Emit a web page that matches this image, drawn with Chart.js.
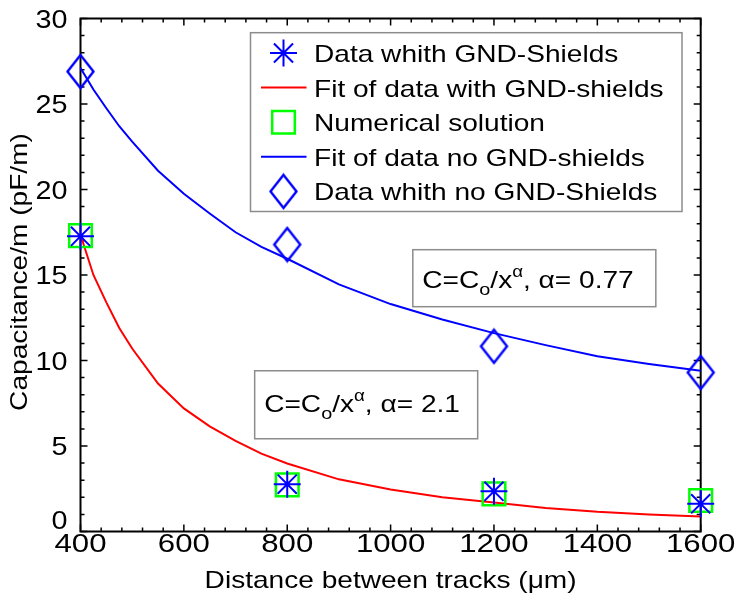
<!DOCTYPE html>
<html>
<head>
<meta charset="utf-8">
<script src="https://cdn.jsdelivr.net/npm/chart.js@4.4.0/dist/chart.umd.min.js"></script>
<style>
  html, body { margin: 0; padding: 0; background: #fff; }
  #wrap { width: 734px; height: 605px; }
</style>
</head>
<body>
<div id="wrap"><canvas id="capChart" width="734" height="605"></canvas></div>
<script>
// measured points
const distances = [400, 800, 1200, 1600];
const dataGndShields = [17.26, 2.77, 2.35, 1.62];
const numericalSolution = [17.3, 2.73, 2.2, 1.81];
const dataNoShields = [26.9, 16.78, 10.83, 9.3];

// fit curves
const fitX = [400, 425, 450, 475, 500, 550, 600, 650, 700, 750, 800, 900, 1000, 1100, 1200, 1300, 1400, 1500, 1600];
const fitGndShields = [17.35, 15.0, 13.4, 11.9, 10.7, 8.65, 7.2, 6.15, 5.3, 4.55, 3.98, 3.05, 2.45, 2.0, 1.7, 1.38, 1.15, 1.0, 0.88];
const fitNoShields = [27.1, 25.85, 24.75, 23.7, 22.8, 21.1, 19.75, 18.6, 17.5, 16.65, 15.95, 14.45, 13.3, 12.4, 11.6, 10.9, 10.25, 9.8, 9.4];

const xTicks = [400, 600, 800, 1000, 1200, 1400, 1600];
const yTicks = [0, 5, 10, 15, 20, 25, 30];

const legendLabels = ['Data whith GND-Shields', 'Fit of data with GND-shields', 'Numerical solution',
                      'Fit of data no GND-shields', 'Data whith no GND-Shields'];
const alphaValues = ['0.77', '2.1'];

const FONT = '"Liberation Sans", Arial, Helvetica, sans-serif';
const STRETCH = 1.17; // the original text is drawn a bit wide

function pts(xs, ys) {
    return xs.map((x, i) => ({ x: x, y: ys[i] }));
}

// text drawn with a horizontal stretch, returns its width
function wideText(ctx, text, x, y, size, align, stretch) {
    const s = stretch || STRETCH;
    ctx.save();
    ctx.font = size + 'px ' + FONT;
    const w = ctx.measureText(text).width * s;
    let left = x;
    if (align === 'center') left = x - w / 2;
    if (align === 'right') left = x - w;
    ctx.translate(left, y);
    ctx.scale(s, 1);
    ctx.textAlign = 'left';
    ctx.textBaseline = 'alphabetic';
    ctx.fillText(text, 0, 0);
    ctx.restore();
    return w;
}

// matlab style diamond is a bit taller than wide
function makeDiamond(w, h, color, lw) {
    const c = document.createElement('canvas');
    c.width = Math.ceil(w + lw * 2);
    c.height = Math.ceil(h + lw * 2);
    const g = c.getContext('2d');
    const cx = c.width / 2, cy = c.height / 2;
    g.strokeStyle = color;
    g.lineWidth = lw;
    g.beginPath();
    g.moveTo(cx, cy - h / 2);
    g.lineTo(cx + w / 2, cy);
    g.lineTo(cx, cy + h / 2);
    g.lineTo(cx - w / 2, cy);
    g.closePath();
    g.stroke();
    return c;
}
const diamond = makeDiamond(26, 33, '#0000ff', 2.4);

// formula label: C=C_o/x^a, a= value
function drawFormula(ctx, x, y, value) {
    ctx.fillStyle = '#000';
    let cx = x;
    cx += wideText(ctx, 'C=C', cx, y, 24, 'left');
    cx += wideText(ctx, 'o', cx, y + 7, 17, 'left');
    cx += wideText(ctx, '/x', cx, y, 24, 'left');
    cx += wideText(ctx, 'α', cx, y - 11, 16, 'left');
    cx += wideText(ctx, ', α= ' + value, cx, y, 24, 'left');
    return cx - x;
}

const matlabAxes = {
    id: 'matlabAxes',
    beforeDatasetsDraw(chart) {
        const ctx = chart.ctx;
        const a = chart.chartArea;
        const xs = chart.scales.x, ys = chart.scales.y;
        ctx.save();
        ctx.strokeStyle = '#000';
        ctx.lineWidth = 1.5;
        ctx.beginPath();
        // x ticks, top and bottom
        for (let i = 0; i < xTicks.length; i++) {
            const px = xs.getPixelForValue(xTicks[i]);
            ctx.moveTo(px, a.bottom); ctx.lineTo(px, a.bottom - 7);
            ctx.moveTo(px, a.top); ctx.lineTo(px, a.top + 7);
            if (i < xTicks.length - 1) {
                const step = (xTicks[i + 1] - xTicks[i]) / 5;
                for (let k = 1; k < 5; k++) {
                    const mx = xs.getPixelForValue(xTicks[i] + k * step);
                    ctx.moveTo(mx, a.bottom); ctx.lineTo(mx, a.bottom - 4);
                    ctx.moveTo(mx, a.top); ctx.lineTo(mx, a.top + 4);
                }
            }
        }
        // y ticks, left and right
        for (let i = 0; i < yTicks.length; i++) {
            const py = ys.getPixelForValue(yTicks[i]);
            ctx.moveTo(a.left, py); ctx.lineTo(a.left + 7, py);
            ctx.moveTo(a.right, py); ctx.lineTo(a.right - 7, py);
            if (i < yTicks.length - 1) {
                const step = (yTicks[i + 1] - yTicks[i]) / 5;
                for (let k = 1; k < 5; k++) {
                    const my = ys.getPixelForValue(yTicks[i] + k * step);
                    ctx.moveTo(a.left, my); ctx.lineTo(a.left + 4, my);
                    ctx.moveTo(a.right, my); ctx.lineTo(a.right - 4, my);
                }
            }
        }
        ctx.stroke();

        ctx.lineWidth = 2;
        ctx.strokeRect(a.left, a.top, a.right - a.left, a.bottom - a.top);

        // tick labels
        ctx.fillStyle = '#000';
        xTicks.forEach(v => {
            wideText(ctx, String(v), xs.getPixelForValue(v), a.bottom + 20, 26, 'center', 1.2);
        });
        yTicks.forEach(v => {
            let py = ys.getPixelForValue(v) + 9;
            if (v === 0) py -= 12;
            wideText(ctx, String(v), a.left - 13, py, 25, 'right', 1.15);
        });

        // axis titles
        wideText(ctx, 'Distance between tracks (μm)', (a.left + a.right) / 2, 588, 24, 'center');
        ctx.save();
        ctx.translate(27, 272);
        ctx.rotate(-Math.PI / 2);
        wideText(ctx, 'Capacitance/m (pF/m)', 0, 0, 24, 'center');
        ctx.restore();
        ctx.restore();
    },
    afterDatasetsDraw(chart) {
        const ctx = chart.ctx;
        const a = chart.chartArea;
        const xs = chart.scales.x, ys = chart.scales.y;
        ctx.save();

        // formula boxes
        const boxes = [
            { x: 1043, y: 16.48, w: 243, h: 57, base: 38, value: alphaValues[0] },
            { x: 737, y: 9.4, w: 223, h: 68, base: 41, value: alphaValues[1] }
        ];
        boxes.forEach(b => {
            const bx = xs.getPixelForValue(b.x), by = ys.getPixelForValue(b.y);
            ctx.fillStyle = '#fff';
            ctx.fillRect(bx, by, b.w, b.h);
            ctx.strokeStyle = '#8c8c8c';
            ctx.lineWidth = 1.5;
            ctx.strokeRect(bx, by, b.w, b.h);
            drawFormula(ctx, bx + 9.5, by + b.base, b.value);
        });

        // legend
        const lx = a.left + 170, ly = a.top + 14.2, lw = 431.5, lh = 178.8;
        ctx.fillStyle = '#fff';
        ctx.fillRect(lx, ly, lw, lh);
        ctx.strokeStyle = '#8c8c8c';
        ctx.lineWidth = 1.5;
        ctx.strokeRect(lx, ly, lw, lh);

        chart.data.datasets.forEach((ds, i) => {
            const ry = ly + 20.3 + i * 34.6;
            const sx = lx + 33;
            if (ds.showLine) {
                ctx.strokeStyle = ds.borderColor;
                ctx.lineWidth = ds.borderWidth;
                ctx.beginPath();
                ctx.moveTo(lx + 10.5, ry);
                ctx.lineTo(lx + 56, ry);
                ctx.stroke();
            } else {
                ctx.strokeStyle = ds.pointBorderColor;
                ctx.fillStyle = 'rgba(0,0,0,0)';
                ctx.lineWidth = ds.pointBorderWidth;
                Chart.helpers.drawPoint(ctx, {
                    pointStyle: ds.pointStyle,
                    radius: ds.pointRadius,
                    borderWidth: ds.pointBorderWidth,
                    rotation: 0
                }, sx, ry);
            }
            ctx.fillStyle = '#000';
            wideText(ctx, legendLabels[i], lx + 63.5, ry + 9, 24, 'left');
        });
        ctx.restore();
    }
};

new Chart(document.getElementById('capChart'), {
    type: 'scatter',
    data: {
        datasets: [
            {
                label: legendLabels[0],
                data: pts(distances, dataGndShields),
                showLine: false,
                pointStyle: 'star',
                pointRadius: 13.5,
                pointBorderColor: '#0000ff',
                pointBackgroundColor: 'rgba(0,0,0,0)',
                pointBorderWidth: 2,
                borderColor: '#0000ff',
                order: 1,
                clip: false
            },
            {
                label: legendLabels[1],
                data: pts(fitX, fitGndShields),
                showLine: true,
                borderColor: '#ff0000',
                borderWidth: 2,
                pointRadius: 0,
                tension: 0,
                order: 3,
                clip: false
            },
            {
                label: legendLabels[2],
                data: pts(distances, numericalSolution),
                showLine: false,
                pointStyle: 'rect',
                pointRadius: 16,
                pointBorderColor: '#00ff00',
                pointBackgroundColor: 'rgba(0,0,0,0)',
                pointBorderWidth: 2.5,
                borderColor: '#00ff00',
                order: 2,
                clip: false
            },
            {
                label: legendLabels[3],
                data: pts(fitX, fitNoShields),
                showLine: true,
                borderColor: '#0000ff',
                borderWidth: 2,
                pointRadius: 0,
                tension: 0,
                order: 4,
                clip: false
            },
            {
                label: legendLabels[4],
                data: pts(distances, dataNoShields),
                showLine: false,
                pointStyle: diamond,
                pointRadius: 14,
                pointBorderColor: '#0000ff',
                pointBackgroundColor: 'rgba(0,0,0,0)',
                pointBorderWidth: 2.4,
                borderColor: '#0000ff',
                order: 5,
                clip: false
            }
        ]
    },
    options: {
        responsive: false,
        animation: false,
        events: [],
        layout: { padding: { left: 80.5, top: 10.5, right: 33.3, bottom: 73.5 } },
        scales: {
            x: { type: 'linear', min: 400, max: 1600, display: false },
            y: { type: 'linear', min: 0, max: 30, display: false }
        },
        plugins: {
            legend: { display: false },
            tooltip: { enabled: false }
        }
    },
    plugins: [matlabAxes]
});
</script>
</body>
</html>
